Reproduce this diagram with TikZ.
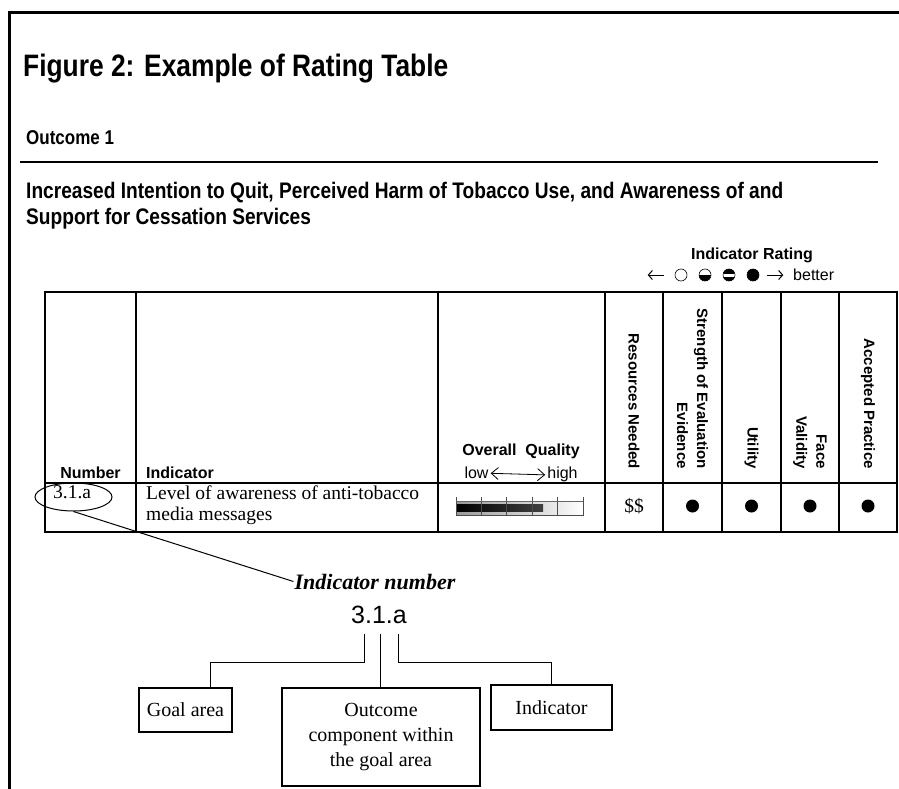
\documentclass[tikz,border=0pt]{standalone}
\usepackage{fontspec}
\setmainfont{Liberation Serif}
\setsansfont{Liberation Sans}
\newfontfamily\narrowfont[FakeStretch=0.85]{Liberation Sans}
\usetikzlibrary{arrows.meta,positioning,calc,shapes.geometric}

\tikzset{
  grid line/.style={line width=1.6pt},
  hdr/.style={font=\sffamily\bfseries\fontsize{16}{18}\selectfont, inner sep=0pt},
  vhdr/.style={font=\sffamily\bfseries\fontsize{15}{20}\selectfont, rotate=-90, anchor=east, align=right, inner sep=0pt},
  rowtxt/.style={font=\rmfamily\fontsize{19.5}{21}\selectfont, inner sep=0pt},
  dot/.style={circle, fill, inner sep=0pt, minimum size=13pt},
  ball/.style={circle, draw, line width=0.6pt, inner sep=0pt, minimum size=12pt},
  keyarrow/.style={line width=1pt, -{Straight Barb[length=4pt,width=9pt]}},
  partbox/.style={draw, line width=1.2pt, font=\rmfamily\fontsize{20}{25}\selectfont, align=center, inner sep=0pt},
  link/.style={draw, line width=1pt}
}

\begin{document}
\begin{tikzpicture}[x=1pt,y=1pt]
\useasboundingbox (0,0) rectangle (899,-789);
% frame
\draw[line width=3pt] (9,-789) -- (9,-13) -- (899,-13);

% heading
\node[anchor=base west, inner sep=0pt, font=\narrowfont\bfseries\fontsize{31}{36}\selectfont] (title) at (23,-77) {Figure 2: Example of Rating Table};
\node[anchor=base west, inner sep=0pt, font=\narrowfont\bfseries\fontsize{20}{22}\selectfont] (outcome) at (26,-144) {Outcome 1};
\draw[line width=1.5pt] (20,-162) -- (878,-162);
\node[anchor=base west, inner sep=0pt, align=left, font=\narrowfont\bfseries\fontsize{22.5}{26}\selectfont] (outtitle) at (26,-224)
  {Increased Intention to Quit, Perceived Harm of Tobacco Use, and Awareness of and\\Support for Cessation Services};

% rating key
\node[hdr, anchor=base] (rating) at (752,-259) {Indicator Rating};
\node[ball] (r0) at (681,-275) {};
\node[ball, path picture={\fill (path picture bounding box.west) rectangle (path picture bounding box.south east);}] (r1) at (705,-275) {};
\node[ball, path picture={\fill (path picture bounding box.north west) rectangle ([yshift=1pt]path picture bounding box.east);
  \fill ([yshift=-2pt]path picture bounding box.west) rectangle (path picture bounding box.south east);}] (r2) at (729,-275) {};
\node[ball, fill] (r3) at (753,-275) {};
\draw[keyarrow] ([xshift=-11pt]r0.west) -- ++(-16,0);
\draw[keyarrow] ([xshift=8pt]r3.east) -- ++(16,0);
\node[font=\sffamily\fontsize{16}{18}\selectfont, inner sep=0pt, anchor=base west] (better) at (793,-280) {better};

% table
\draw[grid line] (45,-292) rectangle (897,-532);
\draw[grid line] (45,-483) -- (897,-483);
\foreach \x in {136,438,605,663,722,781,839}
  \draw[grid line] (\x,-292) -- (\x,-532);

% header row
\node[hdr, anchor=base] (hnum) at (90.5,-478) {Number};
\node[hdr, anchor=base west] (hind) at (146,-478) {Indicator};
\node[hdr, anchor=base] (hqual) at (521,-455) {Overall~~Quality};
\node[font=\sffamily\fontsize{16}{18}\selectfont, inner sep=0pt, anchor=base] (low) at (476.5,-478) {low};
\node[font=\sffamily\fontsize{16}{18}\selectfont, inner sep=0pt, anchor=base] (high) at (562.5,-478) {high};
\draw[line width=0.8pt, {Straight Barb[length=7pt,width=12pt]}-{Straight Barb[length=7pt,width=12pt]}]
  ([xshift=2pt,yshift=-1pt]low.east) -- ([xshift=-2pt,yshift=-1pt]high.west);
\node[vhdr] (hres) at (634,-469) {Resources Needed};
\node[vhdr] (hstr) at (692.5,-469) {Strength of Evaluation\\Evidence};
\node[vhdr] (hutil) at (751.5,-469) {Utility};
\node[vhdr] (hface) at (810,-469) {Face\\Validity};
\node[vhdr] (hacc) at (868,-469) {Accepted Practice};

% data row
\node[rowtxt, anchor=base west] (num) at (53,-498) {3.1.a};
\node[draw, ellipse, line width=1pt, inner sep=0pt, minimum width=77pt, minimum height=28pt] (numring) at (73.5,-497) {};
\node[rowtxt, anchor=base west, align=left] (indtxt) at (146,-520) {Level of awareness of anti-tobacco\\media messages};
\shade[left color=gray!80, right color=white] (456,-501) rectangle (583,-515);
\shade[left color=black, right color=black!75] (456,-504) rectangle (543,-511);
\foreach \i in {1,...,4}
  \draw[line width=0.8pt, black!70] (456+25.4*\i,-497) -- (456+25.4*\i,-515);
\draw[line width=0.8pt, black!70] (456,-497) -- (456,-515) -- (583,-515) -- (583,-497);
\draw[line width=0.5pt, black!60] (456,-501) -- (583,-501);
\node[rowtxt, anchor=base] (res) at (634,-512) {\$\$};
\foreach \x/\n in {692.5/a,751.5/b,810/c,868/d}
  \node[dot] (dot\n) at (\x,-506) {};

% indicator number breakdown
\node[font=\rmfamily\bfseries\itshape\fontsize{22}{26}\selectfont, inner sep=1pt, anchor=base] (inum) at (375,-589) {Indicator number};
\node[font=\sffamily\fontsize{25}{28}\selectfont, inner sep=0pt, anchor=base] (code) at (379,-623) {3.1.a};
\draw[link] (numring.south) -- (inum.west);

\node[partbox, minimum width=93pt, minimum height=44pt] (goal) at (185.5,-710) {Goal area};
\node[partbox, minimum width=198pt, minimum height=98pt] (comp) at (381,-737) {Outcome\\component within\\the goal area};
\node[partbox, minimum width=121pt, minimum height=45pt] (part) at (551.5,-707.5) {Indicator};

\coordinate (c1) at (364,-634);
\coordinate (c2) at (380,-634);
\coordinate (c3) at (398,-634);
\coordinate (gdrop) at ($(goal.north west)!0.77!(goal.north east)$);
\draw[link] (c1) |- ([yshift=25pt]gdrop) -- (gdrop);
\draw[link] (c2) -- (c2 |- comp.north);
\draw[link] (c3) |- ([yshift=22pt]part.north) -- (part.north);
\end{tikzpicture}
\end{document}
